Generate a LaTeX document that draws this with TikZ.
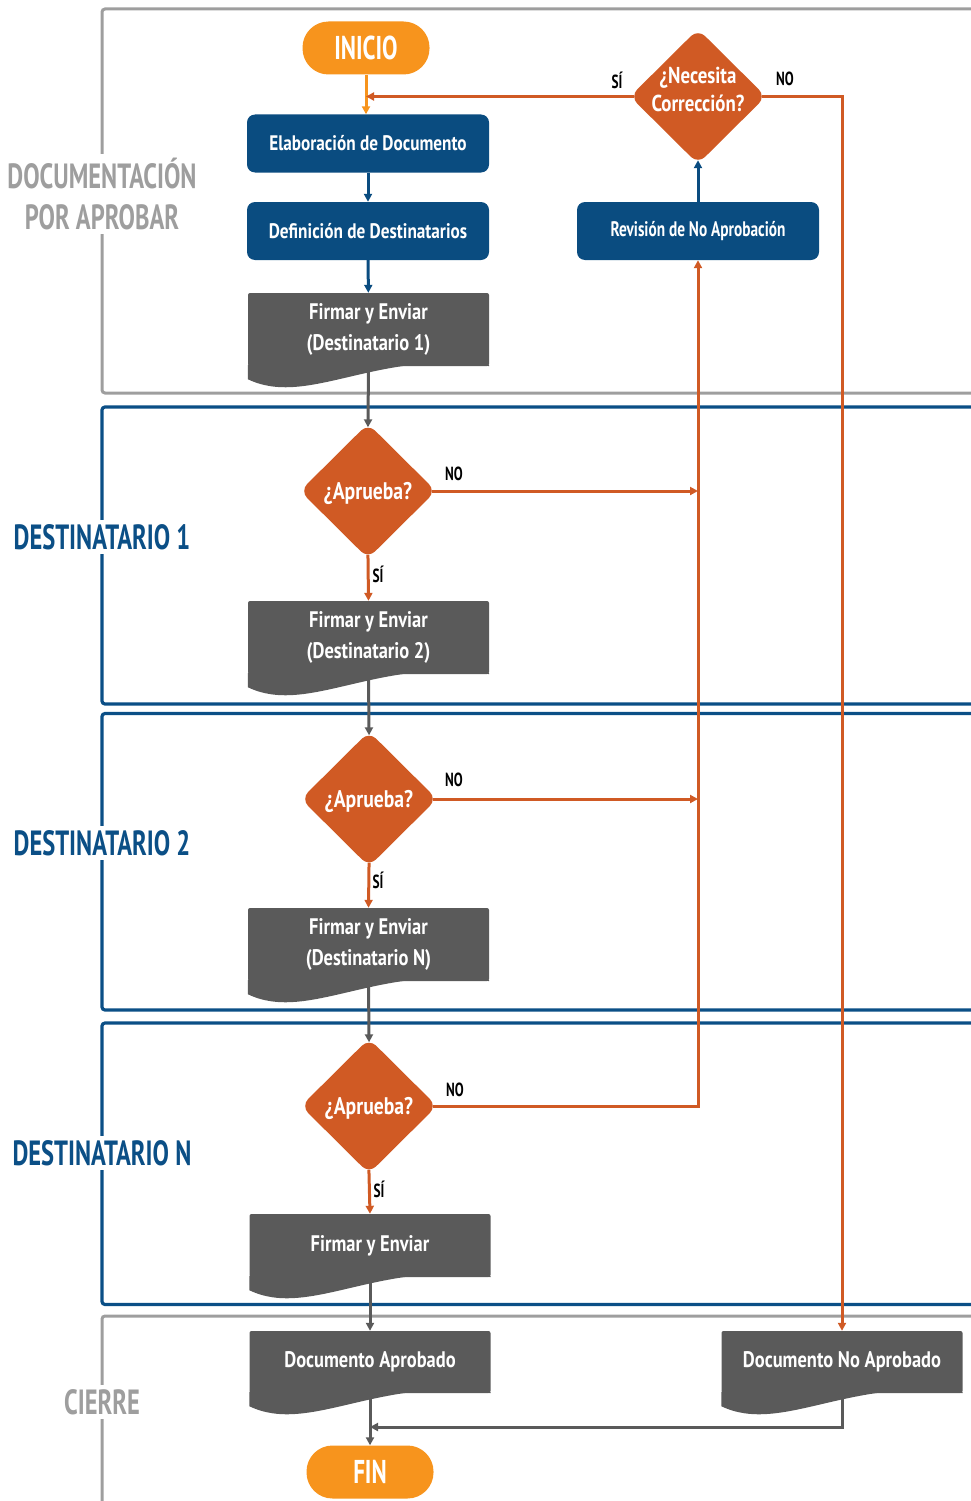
\documentclass[tikz,border=0pt]{standalone}
\usepackage{fontspec}
\setmainfont{PT Sans}[FakeStretch=0.70]
\newfontfamily\bxf{PT Sans}[FakeStretch=0.82]
\newfontfamily\bxn{PT Sans}[FakeStretch=0.73]
\usetikzlibrary{arrows.meta,shapes.geometric}
\definecolor{lgray}{HTML}{9E9E9E}
\definecolor{lblue}{HTML}{0B4F86}
\definecolor{bblue}{HTML}{0A4C80}
\definecolor{yorange}{HTML}{F7941D}
\definecolor{rorange}{HTML}{D05A24}
\definecolor{dgray}{HTML}{5A5A5A}
\newcommand\dtext[1]{\smash{\makebox[0pt]{\raisebox{-2pt}{\begin{tabular}{@{}c@{}}#1\end{tabular}}}}}
\newcommand\dsingle[1]{\smash{\makebox[0pt]{\raisebox{-0.36em}{#1}}}}
\newcommand\docwave[1]{\fill[dgray] ([yshift=1pt]#1.south west) -- ([yshift=-13pt]#1.south west) .. controls +(60pt,-29pt) and +(-111pt,18pt) .. (#1.south east) -- ([yshift=1pt]#1.south east) -- cycle;}
\tikzset{
 lanegray/.style={draw=lgray, line width=3pt, rounded corners=3pt},
 laneblue/.style={draw=lblue, line width=3.2pt, rounded corners=3pt},
 lanelbl/.style={fill=white, inner xsep=2pt, inner ysep=4pt, align=center, font=\bfseries\fontsize{35}{41}\selectfont},
 term/.style={fill=yorange, rounded corners=26pt, minimum width=127pt, minimum height=53pt, inner sep=0pt, text=white, font=\bfseries\fontsize{33}{33}\selectfont},
 proc/.style={fill=bblue, rounded corners=8pt, minimum width=242pt, minimum height=58pt, inner sep=0pt, text=white, font=\bxf\bfseries\fontsize{21}{26}\selectfont},
 decis/.style={diamond, aspect=1, fill=rorange, rounded corners=10pt, minimum width=136pt, minimum height=135pt, inner sep=0pt, text=white, font=\bxf\bfseries\fontsize{24}{28}\selectfont},
 docbox/.style={fill=dgray, rounded corners=2pt, minimum width=241pt, inner sep=0pt, align=center, text=white, font=\bxf\bfseries\fontsize{22.5}{31}\selectfont},
 lbl/.style={text=black, inner sep=0pt, font=\bfseries\fontsize{19}{19}\selectfont},
 conn/.style={line width=3pt, -{Triangle[length=8pt,width=8pt]}},
 oconn/.style={conn, draw=rorange},
 bconn/.style={conn, draw=bblue},
 gconn/.style={conn, draw=dgray},
 yconn/.style={conn, draw=yorange},
 fromdia/.style={shorten <=-4pt},
 todia/.style={shorten >=-4pt},
}
\begin{document}
\begin{tikzpicture}[x=1pt,y=-1pt]
\useasboundingbox (0,0) rectangle (971,1501);
% lanes
\draw[lanegray] (980,9) -- (102,9) -- (102,393) -- (980,393);
\draw[laneblue] (980,407) -- (102,407) -- (102,704) -- (980,704);
\draw[laneblue] (980,713.5) -- (102,713.5) -- (102,1010) -- (980,1010);
\draw[laneblue] (980,1023) -- (102,1023) -- (102,1304.5) -- (980,1304.5);
\draw[lanegray] (980,1316) -- (102,1316) -- (102,1510);
\node[lanelbl, text=lgray] (L1) at (102,194) {DOCUMENTACIÓN\\POR APROBAR};
\node[lanelbl, text=lblue] (L2) at (102,537) {DESTINATARIO 1};
\node[lanelbl, text=lblue] (L3) at (102,843) {DESTINATARIO 2};
\node[lanelbl, text=lblue] (L4) at (102,1153) {DESTINATARIO N};
\node[lanelbl, text=lgray] (L5) at (102,1402) {CIERRE};
% nodes
\node[term] (inicio) at (366,48) {INICIO};
\node[proc] (elab) at (368,143.5) {Elaboración de Documento};
\node[proc] (defi) at (368,231) {Definición de Destinatarios};
\node[docbox, minimum height=73pt] (doc1) at (368.5,329.5) {Firmar y Enviar\\(Destinatario 1)};
\docwave{doc1}
\node[decis, font=\bxf\bfseries\fontsize{23}{28}\selectfont] (nc) at (698,96.5) {\dtext{¿Necesita\\Corrección?}};
\node[proc, font=\bxn\bfseries\fontsize{21}{26}\selectfont] (rv) at (698,231) {Revisión de No Aprobación};
\node[decis] (d1) at (368,491) {\dsingle{¿Aprueba?}};
\node[docbox, minimum height=73pt] (doc2) at (368.5,637.5) {Firmar y Enviar\\(Destinatario 2)};
\docwave{doc2}
\node[decis] (d2) at (369,799) {\dsingle{¿Aprueba?}};
\node[docbox, minimum height=73pt] (doc3) at (368.5,944.5) {Firmar y Enviar\\(Destinatario N)};
\docwave{doc3}
\node[decis] (d3) at (369,1106) {\dsingle{¿Aprueba?}};
\node[docbox, minimum height=63pt] (doc4) at (370,1245.5) {Firmar y Enviar};
\docwave{doc4}
\node[docbox, minimum height=62pt] (da) at (370,1362) {Documento Aprobado};
\docwave{da}
\node[docbox, minimum height=62pt] (nna) at (842,1362) {Documento No Aprobado};
\docwave{nna}
\node[term] (fin) at (370,1472) {FIN};
\coordinate (j) at (370,1427);
% connectors
\draw[yconn] (inicio.south) -- (inicio.south |- elab.north);
\draw[bconn] (elab) -- (defi);
\draw[bconn] (defi) -- (doc1);
\draw[bconn, todia] (rv) -- (nc);
\draw[oconn, fromdia] (nc.west) -- (nc.west -| inicio.south);
\draw[oconn, fromdia] (nc.east) -| (nna.north);
\draw[gconn, todia] (doc1.south) -- (d1.north);
\draw[oconn, fromdia] (d1.east) -- (d1.east -| rv.south);
\draw[oconn, fromdia] (d1.south) -- (doc2.north);
\draw[gconn, todia] (doc2.south) -- (d2.north);
\draw[oconn, fromdia] (d2.east) -- (d2.east -| rv.south);
\draw[oconn, fromdia] (d2.south) -- (doc3.north);
\draw[gconn, todia] (doc3.south) -- (d3.north);
\draw[oconn, fromdia] (d3.east) -| (rv.south);
\draw[oconn, fromdia] (d3.south) -- (doc4.north);
\draw[gconn] (doc4.south) -- (da.north);
\draw[gconn] (da.south) -- (fin.north);
\draw[gconn] (nna.south) |- (j);
% labels
\node[lbl] (s0) at (617,80) {SÍ};
\node[lbl] (n0) at (785,79) {NO};
\node[lbl] (n1) at (454,474) {NO};
\node[lbl] (s1) at (378,574) {SÍ};
\node[lbl] (n2) at (454,780) {NO};
\node[lbl] (s2) at (378,880) {SÍ};
\node[lbl] (n3) at (455,1090) {NO};
\node[lbl] (s3) at (379,1189) {SÍ};
\end{tikzpicture}
\end{document}
